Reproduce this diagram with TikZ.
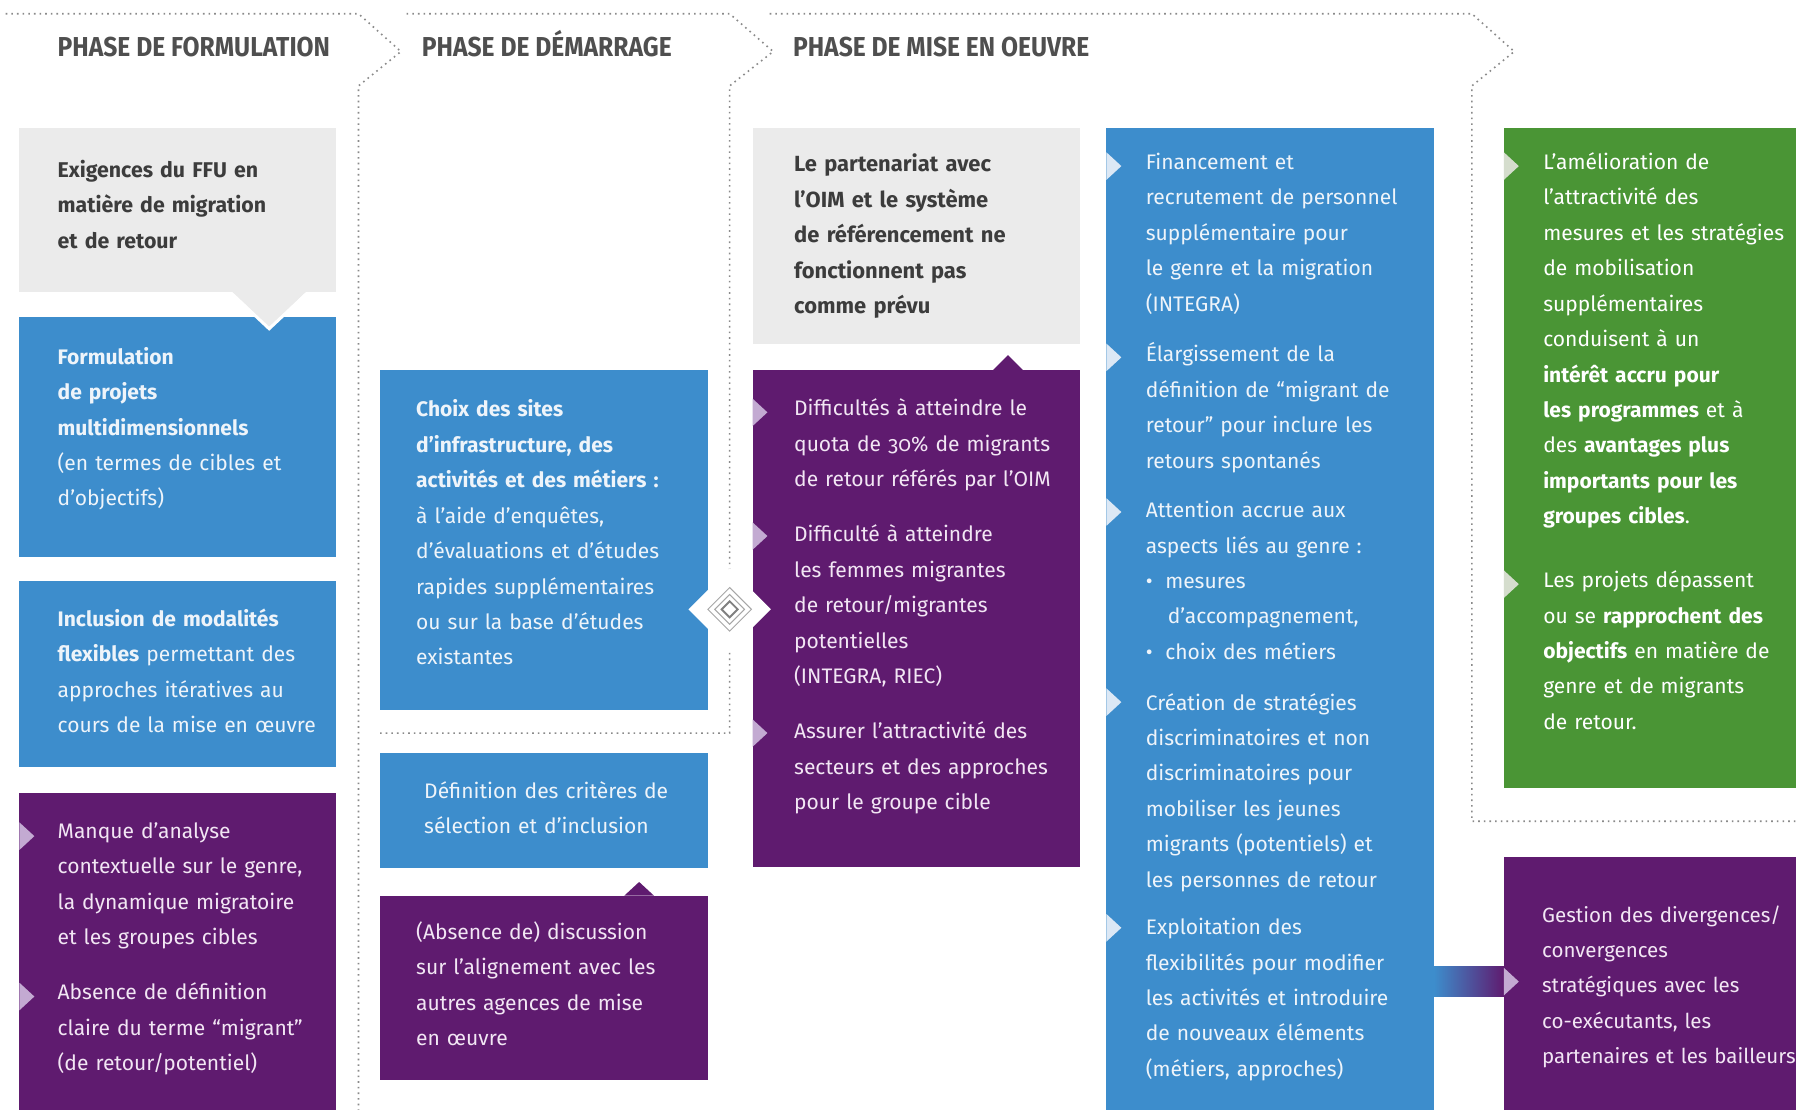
\documentclass[tikz,border=0pt]{standalone}
\usepackage{fontspec}
\setmainfont{Fira Sans}[Numbers=OldStyle]
\newfontfamily\headfont{Fira Sans}[FakeStretch=0.9]
\usetikzlibrary{calc}

\definecolor{blueC}{HTML}{3D8DCC}
\definecolor{purpleC}{HTML}{5F1B6F}
\definecolor{greenC}{HTML}{4A9535}
\definecolor{greyC}{HTML}{EBEBEB}
\definecolor{headC}{HTML}{4F4F4F}
\definecolor{greyT}{HTML}{3C3C3C}
\definecolor{lavC}{HTML}{C3AAD2}
\definecolor{lblueC}{HTML}{DCE8F5}
\definecolor{lgreenC}{HTML}{D5DDCD}
\definecolor{dotC}{HTML}{8A8A8A}
\definecolor{blueT}{HTML}{EEF4FA}
\definecolor{purpleT}{HTML}{F2E6F4}

\tikzset{
  phase/.style={font=\headfont\bfseries\fontsize{13.6}{15}\selectfont, text=headC, anchor=base west, inner sep=0},
  txt/.style={font=\fontsize{10.45}{17.6}\selectfont, anchor=north west, inner sep=0,
    text width=6cm, align=left, execute at begin node=\strut},
  bluetxt/.style={txt, text=blueT},
  purpletxt/.style={txt, text=purpleT},
  greentxt/.style={txt, text=white},
  greytxt/.style={txt, text=greyT, font=\bfseries\fontsize{10.6}{17.6}\selectfont},
  frame/.style={dotC, dotted, line width=0.8pt},
}
% small bullet triangle on the left edge of a box
\newcommand\bultri[3]{\fill[#3] (#1,#2-12) -- (#1+13,#2) -- (#1,#2+12) -- cycle;}

\begin{document}
\begin{tikzpicture}[x=0.02cm,y=-0.02cm]
\useasboundingbox (0,0) rectangle (1568,969);
\fill[white] (0,0) rectangle (1568,969);

% phase frames
\draw[frame] (5,12) -- (313,12) -- (350,45) -- (313,75) -- (313,969);
\draw[frame] (355,12) -- (637,12) -- (675,45) -- (637,75) -- (637,640) -- (330,640);
\draw[frame] (672,12) -- (1285,12) -- (1322,45) -- (1285,75) -- (1285,717) -- (1568,717);

\node[phase] (ph1) at (50,49) {PHASE DE FORMULATION};
\node[phase] (ph2) at (368,49) {PHASE DE DÉMARRAGE};
\node[phase] (ph3) at (692,49) {PHASE DE MISE EN OEUVRE};

%% formulation
\fill[greyC] (17,112) rectangle (293,255);
\node[greytxt] (g1) at (50,133) {Exigences du FFU en\\matière de migration\\et de retour};
\fill[blueC] (17,277) rectangle (293,486);
\fill[greyC] (203,255) -- (235,286) -- (267,255) -- cycle;
\draw[white, line width=1.5pt] (203,257) -- (235,287) -- (267,257);
\node[bluetxt] (b1) at (50,296) {\textbf{Formulation}\\\textbf{de projets}\\\textbf{multidimensionnels}\\(en termes de cibles et\\d’objectifs)};
\fill[blueC] (17,507) rectangle (293,670);
\node[bluetxt] (b2) at (50,525) {\textbf{Inclusion de modalités}\\\textbf{flexibles} permettant des\\approches itératives au\\cours de la mise en œuvre};
\fill[purpleC] (17,692) rectangle (293,969);
\bultri{17}{730}{lavC}
\bultri{17}{870}{lavC}
\node[purpletxt] (p1a) at (50,710) {Manque d’analyse\\contextuelle sur le genre,\\la dynamique migratoire\\et les groupes cibles};
\node[purpletxt] (p1b) at (50,851) {Absence de définition\\claire du terme “migrant”\\(de retour/potentiel)};

%% demarrage
\fill[blueC] (332,323) rectangle (618,620);
\node[bluetxt] (b3) at (363,342) {\textbf{Choix des sites}\\\textbf{d’infrastructure, des}\\\textbf{activités et des métiers :}\\à l’aide d’enquêtes,\\d’évaluations et d’études\\rapides supplémentaires\\ou sur la base d’études\\existantes};
\fill[blueC] (332,657) rectangle (618,758);
\node[bluetxt] (b4) at (370,675) {Définition des critères de\\sélection et d’inclusion};
\fill[purpleC] (332,782) rectangle (618,943);
\fill[purpleC] (545,782) -- (558,770) -- (571,782) -- cycle;
\node[purpletxt] (p2) at (363,798) {(Absence de) discussion\\sur l’alignement avec les\\autres agences de mise\\en œuvre};

%% mise en oeuvre
\fill[greyC] (657,112) rectangle (943,300);
\node[greytxt, font=\bfseries\fontsize{10.9}{17.6}\selectfont] (g2) at (693,128) {Le partenariat avec\\l’OIM et le système\\de référencement ne\\fonctionnent pas\\comme prévu};
\fill[purpleC] (657,323) rectangle (943,757);
\fill[purpleC] (867,323) -- (880,310) -- (893,323) -- cycle;
\bultri{657}{360}{lavC}
\bultri{657}{468}{lavC}
\bultri{657}{640}{lavC}
\node[purpletxt] (p3a) at (693,341) {Difficultés à atteindre le\\quota de 30\% de migrants\\de retour référés par l’OIM};
\node[purpletxt] (p3b) at (693,451) {Difficulté à atteindre\\les femmes migrantes\\de retour/migrantes\\potentielles\\(INTEGRA, RIEC)};
\node[purpletxt] (p3c) at (693,623) {Assurer l’attractivité des\\secteurs et des approches\\pour le groupe cible};

% diamond between the phases
\fill[white] (601,532) -- (637,496) -- (673,532) -- (637,568) -- cycle;
\draw[gray!70, line width=0.5pt] (618,532) -- (637,513) -- (656,532) -- (637,551) -- cycle;
\draw[gray!70, line width=0.5pt] (624,532) -- (637,519) -- (650,532) -- (637,545) -- cycle;
\draw[gray, line width=0.9pt] (630,532) -- (637,525) -- (644,532) -- (637,539) -- cycle;

\fill[blueC] (966,112) rectangle (1252,969);
\bultri{966}{145}{lblueC}
\bultri{966}{312}{lblueC}
\bultri{966}{447}{lblueC}
\bultri{966}{613}{lblueC}
\bultri{966}{810}{lblueC}
\node[bluetxt] (b5a) at (1000,126) {Financement et\\recrutement de personnel\\supplémentaire pour\\le genre et la migration\\(INTEGRA)};
\node[bluetxt] (b5b) at (1000,294) {Élargissement de la\\définition de “migrant de\\retour” pour inclure les\\retours spontanés};
\node[bluetxt] (b5c) at (1000,430) {Attention accrue aux\\aspects liés au genre :\\\textbullet\hspace{0.6em}mesures\\\hspace*{1.05em}d’accompagnement,\\\textbullet\hspace{0.6em}choix des métiers};
\node[bluetxt] (b5d) at (1000,598) {Création de stratégies\\discriminatoires et non\\discriminatoires pour\\mobiliser les jeunes\\migrants (potentiels) et\\les personnes de retour};
\node[bluetxt] (b5e) at (1000,794) {Exploitation des\\flexibilités pour modifier\\les activités et introduire\\de nouveaux éléments\\(métiers, approches)};

%% results
\fill[greenC] (1313,112) rectangle (1568,688);
\bultri{1313}{145}{lgreenC}
\bultri{1313}{510}{lgreenC}
\node[greentxt] (gr1) at (1347,126) {L’amélioration de\\l’attractivité des\\mesures et les stratégies\\de mobilisation\\supplémentaires\\conduisent à un\\\textbf{intérêt accru pour}\\\textbf{les programmes} et à\\des \textbf{avantages plus}\\\textbf{importants pour les}\\\textbf{groupes cibles}.};
\node[greentxt] (gr2) at (1347,491) {Les projets dépassent\\ou se \textbf{rapprochent des}\\\textbf{objectifs} en matière de\\genre et de migrants\\de retour.};

\fill[purpleC] (1313,748) rectangle (1568,969);
\coordinate (b5out) at (1252,857);
\coordinate (p4in) at (1313,857);
\shade[left color=blueC, right color=purpleC] ($(b5out)+(0,-13)$) rectangle ($(p4in)+(0,13)$);
\bultri{1313}{857}{lavC}
\node[purpletxt, font=\fontsize{10.2}{17.6}\selectfont] (p4) at (1346,783) {Gestion des divergences/\\convergences\\stratégiques avec les\\co-exécutants, les\\partenaires et les bailleurs};
\end{tikzpicture}
\end{document}
